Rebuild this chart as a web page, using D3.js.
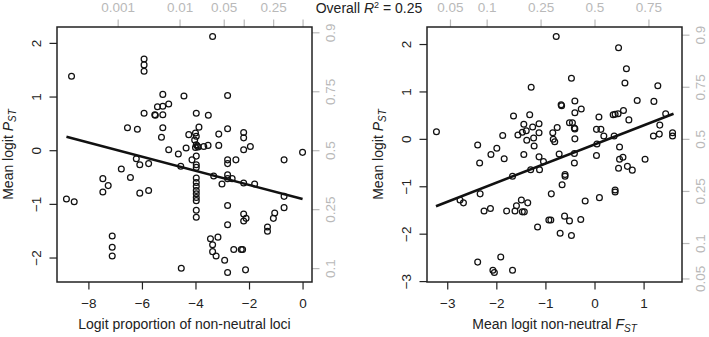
<!DOCTYPE html>
<html>
<head>
<meta charset="utf-8">
<script src="https://cdnjs.cloudflare.com/ajax/libs/d3/7.8.5/d3.min.js"></script>
<style>
  body { margin: 0; background: #fff; }
  svg { display: block; font-family: "Liberation Sans", Arial, sans-serif; }
</style>
</head>
<body>
<div id="chart"></div>
<script>
// left panel: logit proportion of non-neutral loci vs mean logit PST
const leftX = [
  -8.63, -5.92, -5.92, -5.92, -5.22, -4.43, -5.00, -5.42, -5.22, -5.92,
  -5.52, -5.50, -5.22, -6.54, -6.17, -5.22, -5.27, -4.25, -5.00, -4.64,
  -4.35, -6.21, -6.08, -5.75, -6.77, -4.55, -6.43, -7.46, -7.26, -7.46,
  -6.08, -5.75, -8.82, -8.53, -7.11, -7.11, -7.11, -4.53,
  -3.36, -2.80, -3.97, -3.52, -3.87, -2.80, -4.00, -3.97, -4.03, -2.20,
  -2.20, -3.13, -3.13, -3.97, -3.90, -4.00, -3.93, -3.69, -3.53, -2.20,
  -1.95, 0.00, -3.97, -4.13, -2.80, -2.80, -2.49, -0.69, -3.97, -3.97,
  -3.32, -2.80, -2.80, -2.63, -3.01, -2.20, -1.79, -3.97, -3.97, -3.97,
  -3.97, -3.97, -3.97, -3.97, -0.69, -0.69, -3.97, -3.97, -2.80, -2.80,
  -2.20, -2.11, -2.20, -1.04, -1.09, -1.31, -1.31, -3.44, -3.16, -3.36,
  -3.36, -3.23, -2.57, -2.29, -2.24, -2.91, -2.80, -2.13
]
const leftY = [
  1.38, 1.70, 1.59, 1.47, 1.04, 1.01, 0.86, 0.81, 0.82, 0.69,
  0.66, 0.65, 0.66, 0.42, 0.39, 0.42, 0.24, 0.29, 0.01, -0.07,
  0.04, -0.16, -0.27, -0.25, -0.35, -0.30, -0.51, -0.53, -0.66, -0.78,
  -0.80, -0.75, -0.91, -0.96, -1.60, -1.81, -1.97, -2.20,
  2.12, 1.02, 0.69, 0.65, 0.43, 0.40, 0.32, 0.26, 0.19, 0.33,
  0.23, 0.30, 0.09, 0.10, 0.06, 0.05, 0.08, 0.07, 0.09, 0.01,
  0.07, -0.04, -0.11, -0.18, -0.18, -0.25, -0.18, -0.18, -0.27, -0.32,
  -0.48, -0.46, -0.53, -0.53, -0.63, -0.61, -0.63, -0.52, -0.60, -0.67,
  -0.75, -0.81, -0.88, -0.94, -0.86, -1.07, -1.12, -1.25, -1.03, -1.39,
  -1.19, -1.27, -1.32, -1.17, -1.27, -1.43, -1.51, -1.65, -1.62, -1.76,
  -1.89, -1.97, -1.85, -1.85, -1.85, -2.05, -2.28, -2.23
]
const leftFitX = [-8.82, 0]
const leftFitY = [0.25, -0.91]

// right panel: mean logit non-neutral FST vs mean logit PST
const rightX = [
  -3.22, -0.78, -1.29, -1.65, -1.32, -1.44, -1.39, -1.26, -1.13, -1.87,
  -1.56, -1.47, -1.38, -1.24, -1.13, -1.23, -2.38, -1.99, -2.11, -2.34,
  -1.84, -1.44, -1.13, -1.04, -1.12, -1.30, -0.85, -0.84, -0.76, -1.67,
  -2.33, -2.74, -2.67, -0.88, -2.25, -2.12, -1.79, -1.62, -1.59, -1.49,
  -1.36, -1.47, -1.43, -1.16, -0.93, -0.89, -2.38, -1.91, -2.07, -2.04,
  -1.67, -0.81,
  0.49, 0.65, -0.47, 0.62, 1.29, -0.68, -0.67, -0.40, 0.87, 1.21,
  -0.27, -0.40, 0.38, 0.42, 0.48, 0.59, 0.09, 0.70, -0.51, -0.45,
  -0.40, -0.41, 0.04, 0.13, 0.19, 0.40, -0.40, 1.33, 1.45, 1.20,
  1.32, 1.59, 1.59, 0.05, 0.51, -0.72, -0.41, 0.04, 0.51, 0.58,
  1.03, -0.41, 0.49, 0.67, 0.77, -0.60, -0.60, -0.66, -0.19, 0.10,
  0.42, 0.42, -0.61, -0.51, -0.28, -0.70, -0.47
]
const rightY = [
  0.15, 2.16, 1.09, 0.48, 0.51, 0.31, 0.17, 0.25, 0.32, 0.07,
  0.08, 0.14, -0.03, 0.02, 0.13, -0.15, -0.13, -0.20, -0.33, -0.51,
  -0.42, -0.33, -0.38, -0.48, -0.65, -0.65, 0.13, -0.01, 0.24, -0.79,
  -1.16, -1.29, -1.35, -1.16, -1.52, -1.47, -1.52, -1.52, -1.41, -1.29,
  -1.35, -1.54, -1.54, -1.86, -1.71, -1.71, -2.60, -2.49, -2.77, -2.82,
  -2.77, -0.06,
  1.92, 1.48, 1.28, 1.18, 1.12, 0.72, 0.70, 0.80, 0.81, 0.79,
  0.63, 0.55, 0.51, 0.52, 0.53, 0.60, 0.46, 0.40, 0.34, 0.34,
  0.21, 0.23, 0.20, 0.20, 0.06, 0.06, 0.00, 0.29, 0.53, 0.06,
  0.10, 0.13, 0.06, -0.11, -0.17, -0.32, -0.31, -0.35, -0.43, -0.39,
  -0.43, -0.51, -0.62, -0.58, -0.66, -0.75, -0.79, -0.97, -1.31, -1.24,
  -1.08, -1.12, -1.63, -1.73, -1.70, -1.99, -2.04
]
const rightFitX = [-3.23, 1.61]
const rightFitY = [-1.42, 0.53]

// tick values
const leftXTicks = [-8, -6, -4, -2, 0]
const leftYTicks = [-2, -1, 0, 1, 2]
const rightXTicks = [-3, -2, -1, 0, 1]
const rightYTicks = [-3, -2, -1, 0, 1, 2]

// back-transformed (proportion) ticks, grey axes
const leftTopProbs = [0.001, 0.01, 0.05, 0.1, 0.25, 0.5]
const leftTopLabels = ["0.001", "0.01", "0.05", "", "0.25", ""]
const leftSideProbs = [0.1, 0.25, 0.5, 0.75, 0.9]
const rightTopProbs = [0.05, 0.1, 0.25, 0.5, 0.75]
const rightTopLabels = ["0.05", "0.1", "0.25", "0.5", "0.75"]
const rightSideProbs = [0.05, 0.1, 0.25, 0.5, 0.75, 0.9]

const overallR2 = "0.25"

const logit = p => Math.log(p / (1 - p))

function drawChart() {

  const dimensions = {
    width: 709,
    height: 337,
    top: 27,
    bottom: 282,
  }

  const dark = "#222"
  const grey = "#b9b9b9"
  const fontSize = 13.5
  const tickLen = 7.5

  const wrapper = d3.select("#chart")
    .append("svg")
      .attr("width", dimensions.width)
      .attr("height", dimensions.height)

  // R style padding: 4% each side of the data range
  const padded = values => {
    const [lo, hi] = d3.extent(values)
    const pad = (hi - lo) * 0.04
    return [lo - pad, hi + pad]
  }

  const panels = [
    {
      xs: leftX, ys: leftY, fitX: leftFitX, fitY: leftFitY,
      left: 57, right: 312,
      xTicks: leftXTicks, yTicks: leftYTicks,
      topProbs: leftTopProbs, topLabels: leftTopLabels,
      sideProbs: leftSideProbs,
      xTitle: [{ t: "Logit proportion of non-neutral loci" }],
    },
    {
      xs: rightX, ys: rightY, fitX: rightFitX, fitY: rightFitY,
      left: 427, right: 682,
      xTicks: rightXTicks, yTicks: rightYTicks,
      topProbs: rightTopProbs, topLabels: rightTopLabels,
      sideProbs: rightSideProbs,
      xTitle: [
        { t: "Mean logit non-neutral " },
        { t: "F", italic: true },
        { t: "ST", italic: true, sub: true },
      ],
    },
  ]

  panels.forEach(p => {
    const xScale = d3.scaleLinear()
      .domain(padded(p.xs))
      .range([p.left, p.right])
    const yScale = d3.scaleLinear()
      .domain(padded(p.ys))
      .range([dimensions.bottom, dimensions.top])

    const styleAxis = (g, colour) => {
      g.select(".domain").remove()
      g.selectAll("line").attr("stroke", colour).attr("stroke-width", 1.2)
      g.selectAll("text")
        .attr("fill", colour)
        .style("font-size", fontSize + "px")
        .style("font-family", "'Liberation Sans', Arial, sans-serif")
    }

    // bottom axis
    const xAxis = wrapper.append("g")
      .attr("transform", `translate(0, ${dimensions.bottom})`)
      .call(d3.axisBottom(xScale).tickValues(p.xTicks).tickSize(tickLen).tickFormat(d3.format("d")))
    styleAxis(xAxis, dark)
    xAxis.selectAll("text").attr("y", 26).attr("dy", null)

    // left axis
    const yAxis = wrapper.append("g")
      .attr("transform", `translate(${p.left}, 0)`)
      .call(d3.axisLeft(yScale).tickValues(p.yTicks).tickSize(tickLen).tickFormat(d3.format("d")))
    styleAxis(yAxis, dark)
    yAxis.selectAll("text")
      .attr("x", 0).attr("y", 0).attr("dy", "0.35em")
      .attr("text-anchor", "middle")
      .attr("transform", "translate(-21, 0) rotate(-90)")

    // top grey axis in proportion units
    const topAxis = wrapper.append("g")
      .attr("transform", `translate(0, ${dimensions.top})`)
      .call(d3.axisTop(xScale)
        .tickValues(p.topProbs.map(logit))
        .tickSize(tickLen)
        .tickFormat((d, i) => p.topLabels[i]))
    styleAxis(topAxis, grey)
    topAxis.selectAll("text").attr("y", -15).attr("dy", null)

    // right grey axis in proportion units
    const sideAxis = wrapper.append("g")
      .attr("transform", `translate(${p.right}, 0)`)
      .call(d3.axisRight(yScale)
        .tickValues(p.sideProbs.map(logit))
        .tickSize(tickLen)
        .tickFormat((d, i) => String(p.sideProbs[i])))
    styleAxis(sideAxis, grey)
    sideAxis.selectAll("text")
      .attr("x", 0).attr("y", 0).attr("dy", "0.35em")
      .attr("text-anchor", "middle")
      .attr("transform", "translate(18, 0) rotate(-90)")

    // box
    wrapper.append("rect")
      .attr("x", p.left)
      .attr("y", dimensions.top)
      .attr("width", p.right - p.left)
      .attr("height", dimensions.bottom - dimensions.top)
      .attr("fill", "none")
      .attr("stroke", dark)
      .attr("stroke-width", 1.5)

    // points
    wrapper.append("g")
      .selectAll("circle")
      .data(p.xs.map((x, i) => [x, p.ys[i]]))
      .join("circle")
        .attr("cx", d => xScale(d[0]))
        .attr("cy", d => yScale(d[1]))
        .attr("r", 2.9)
        .attr("fill", "none")
        .attr("stroke", "#111")
        .attr("stroke-width", 1.25)

    // fitted line
    const lineGenerator = d3.line()
      .x(d => xScale(d[0]))
      .y(d => yScale(d[1]))
    wrapper.append("path")
      .attr("d", lineGenerator(p.fitX.map((x, i) => [x, p.fitY[i]])))
      .attr("fill", "none")
      .attr("stroke", "#111")
      .attr("stroke-width", 2.6)

    // x title
    const xTitle = wrapper.append("text")
      .attr("x", (p.left + p.right) / 2)
      .attr("y", 329)
      .attr("text-anchor", "middle")
      .attr("fill", dark)
      .style("font-size", "14px")
    p.xTitle.forEach(part => {
      xTitle.append("tspan")
        .text(part.t)
        .attr("font-style", part.italic ? "italic" : null)
        .attr("font-size", part.sub ? "10px" : null)
        .attr("dy", part.sub ? 3 : null)
    })

    // y title
    const yTitle = wrapper.append("text")
      .attr("transform", `translate(${p.left - 44}, ${(dimensions.top + dimensions.bottom) / 2}) rotate(-90)`)
      .attr("text-anchor", "middle")
      .attr("fill", dark)
      .style("font-size", "14px")
    yTitle.append("tspan").text("Mean logit ")
    yTitle.append("tspan").text("P").attr("font-style", "italic")
    yTitle.append("tspan").text("ST").attr("font-style", "italic")
      .attr("font-size", "10px").attr("dy", 3)
  })

  // overall R squared between the panels
  const r2 = wrapper.append("text")
    .attr("x", 369)
    .attr("y", 13)
    .attr("text-anchor", "middle")
    .attr("fill", dark)
    .style("font-size", "14px")
  r2.append("tspan").text("Overall ")
  r2.append("tspan").text("R").attr("font-style", "italic")
  r2.append("tspan").text("2").attr("font-size", "9px").attr("dy", -5)
  r2.append("tspan").text(" = " + overallR2).attr("dy", 5)
}

drawChart()
</script>
</body>
</html>
